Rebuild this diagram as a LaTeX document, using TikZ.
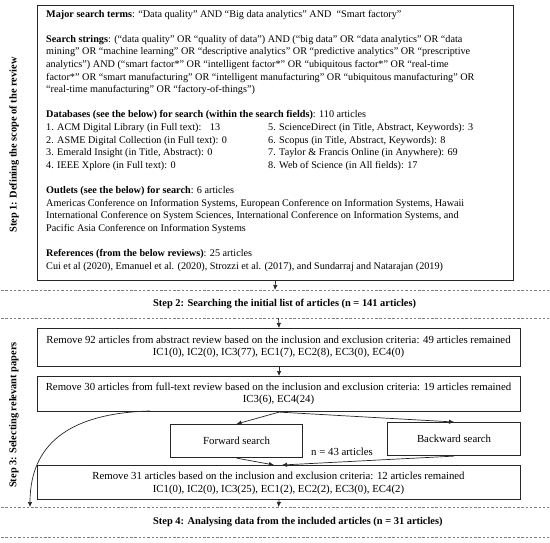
\documentclass[tikz,border=0pt]{standalone}
\usepackage{fontspec}
\setmainfont{Liberation Serif}
\usetikzlibrary{arrows.meta}
\begin{document}
\begin{tikzpicture}[x=1pt,y=-1pt,
  box/.style={draw=black!85, line width=1.1pt, inner sep=0pt},
  ln/.style={font=\fontsize{10.2}{12}\selectfont, inner sep=0pt, anchor=base west},
  cl/.style={font=\fontsize{10.8}{12}\selectfont, inner sep=0pt, anchor=base},
  bt/.style={font=\fontsize{10.8}{12}\selectfont, inner sep=0pt},
  lbl/.style={font=\fontsize{10.4}{12}\selectfont\bfseries, inner sep=0pt},
  sep/.style={draw=black!50, dash pattern=on 2.5pt off 1.8pt, line width=0.7pt},
  arr/.style={draw=black!85, line width=0.7pt, -{Latex[length=5pt,width=4.5pt]}}]
\useasboundingbox (0,0) rectangle (550,542);

% ---------- Step 1 box
\node[box, minimum width=476pt, minimum height=275pt, anchor=north west] (b1) at (37,5) {};
\node[lbl, rotate=90] (s1) at (14,145) {Step 1: Defining the scope of the review};

\node[ln] (l1) at (46,17) {\textbf{Major search terms}: “Data quality” AND “Big data analytics” AND \ “Smart factory”};
\node[ln] (l2) at (46,42.2) {\textbf{Search strings}: (“data quality” OR “quality of data”) AND (“big data” OR “data analytics” OR “data};
\node[ln] (l3) at (46,54.8) {mining” OR “machine learning” OR “descriptive analytics” OR “predictive analytics” OR “prescriptive};
\node[ln] (l4) at (46,67.4) {analytics”) AND (“smart factor*” OR “intelligent factor*” OR “ubiquitous factor*” OR “real-time};
\node[ln] (l5) at (46,80) {factor*” OR “smart manufacturing” OR “intelligent manufacturing” OR “ubiquitous manufacturing” OR};
\node[ln] (l6) at (46,92.6) {“real-time manufacturing” OR “factory-of-things”)};

\node[ln] (l7) at (46,117.8) {\textbf{Databases (see the below) for search (within the search fields)}: 110 articles};
\node[ln] (d1) at (46,130.4) {1. ACM Digital Library (in Full text): \ \ 13};
\node[ln] (d2) at (46,143) {2. ASME Digital Collection (in Full text): 0};
\node[ln] (d3) at (46,155.6) {3. Emerald Insight (in Title, Abstract): 0};
\node[ln] (d4) at (46,168.2) {4. IEEE Xplore (in Full text): 0};
\node[ln] (d5) at (268,130.4) {5. ScienceDirect (in Title, Abstract, Keywords): 3};
\node[ln] (d6) at (268,143) {6. Scopus (in Title, Abstract, Keywords): 8};
\node[ln] (d7) at (268,155.6) {7. Taylor \& Francis Online (in Anywhere): 69};
\node[ln] (d8) at (268,168.2) {8. Web of Science (in All fields): 17};

\node[ln] (o1) at (46,193.4) {\textbf{Outlets (see the below) for search}: 6 articles};
\node[ln] (o2) at (46,206) {Americas Conference on Information Systems, European Conference on Information Systems, Hawaii};
\node[ln] (o3) at (46,218.6) {International Conference on System Sciences, International Conference on Information Systems, and};
\node[ln] (o4) at (46,231.2) {Pacific Asia Conference on Information Systems};

\node[ln] (r1) at (46,256.4) {\textbf{References (from the below reviews)}: 25 articles};
\node[ln] (r2) at (46,269) {Cui et al (2020), Emanuel et al. (2020), Strozzi et al. (2017), and Sundarraj and Natarajan (2019)};

% ---------- separators and step 2
\draw[sep] (1,290) -- (549,290);
\node[lbl, anchor=west] (s2) at (153,304) {Step 2: Searching the initial list of articles (n = 141 articles)};
\draw[sep] (1,318) -- (549,318);
\coordinate (c1) at (275,290);
\coordinate (c2) at (278.5,318);

% ---------- Step 3
\node[lbl, rotate=90] (s3) at (14,415) {Step 3: Selecting relevant papers};

\node[box, minimum width=483pt, minimum height=38pt, anchor=north west] (b2) at (37,328) {};
\node[cl] (b2a) at (278.5,343) {Remove 92 articles from abstract review based on the inclusion and exclusion criteria: 49 articles remained};
\node[cl] (b2b) at (278.5,355.5) {IC1(0), IC2(0), IC3(77), EC1(7), EC2(8), EC3(0), EC4(0)};

\node[box, minimum width=483pt, minimum height=35pt, anchor=north west] (b3) at (37,376) {};
\node[cl] (b3a) at (278.5,390) {Remove 30 articles from full-text review based on the inclusion and exclusion criteria: 19 articles remained};
\node[cl] (b3b) at (278.5,402.5) {IC3(6), EC4(24)};

\node[box, minimum width=132pt, minimum height=33pt, anchor=north west] (fw) at (170,424) {};
\node[bt] (fwt) at (fw.center) {Forward search};
\node[box, minimum width=133pt, minimum height=33pt, anchor=north west] (bw) at (387,422) {};
\node[bt] (bwt) at (bw.center) {Backward search};
\node[bt] (n43) at (342,452) {n = 43 articles};

\node[box, minimum width=483pt, minimum height=34pt, anchor=north west] (b4) at (37,465) {};
\node[cl] (b4a) at (278.5,479.5) {Remove 31 articles based on the inclusion and exclusion criteria: 12 articles remained};
\node[cl] (b4b) at (278.5,492) {IC1(0), IC2(0), IC3(25), EC1(2), EC2(2), EC3(0), EC4(2)};

% ---------- Step 4
\draw[sep] (1,507) -- (549,507);
\node[lbl, anchor=west] (s4) at (153,522) {Step 4: Analysing data from the included articles (n = 31 articles)};
\draw[sep] (1,537) -- (549,537);
\coordinate (c3) at (278.5,507);
\coordinate (c4) at (30,507);
\coordinate (cs) at (150,411);
\coordinate (e1) at (274,465);
\coordinate (e2) at (282,465);

% ---------- connectors
\draw[arr] (b1.south) -- (c1);
\draw[arr] (c2) -- (b2.north);
\draw[arr] (b2.south) -- (b3.north);
\draw[arr] (b3.south) -- (fw.north);
\draw[arr] (b3.south) -- (bw.north);
\draw[arr] (fw.south) -- (e1);
\draw[arr] (bw.south) -- (e2);
\draw[arr] (b4.south) -- (c3);
\draw[arr] (cs) .. controls (75,413) and (30,440) .. (c4);
\end{tikzpicture}
\end{document}
